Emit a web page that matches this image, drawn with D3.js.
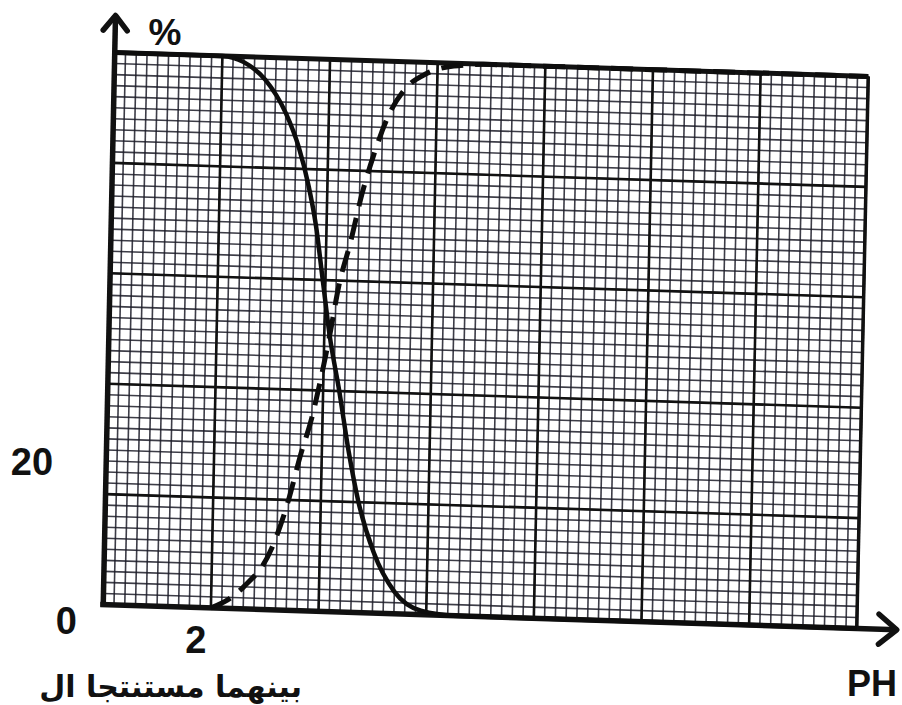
<!DOCTYPE html>
<meta charset="utf-8">
<title>% vs PH</title>
<script src="https://d3js.org/d3.v7.min.js"></script>
<style>
  body { margin: 0; background: #fff; }
  svg text { font-family: "Liberation Sans", Arial, sans-serif; font-weight: bold; fill: #111; }
</style>
<body>
<script>

// solid curve (falls from 100% to 0%)
const solidPH  = [0, 2, 2.4, 2.8, 3.2, 3.45, 3.65, 3.8, 3.95, 4.1, 4.3, 4.5, 4.7, 5.0, 5.4, 5.9, 6.5, 14];
const solidPct = [100, 100, 99, 96, 90, 84, 77, 70, 60, 50, 40, 29, 20, 11, 4, 0.7, 0, 0];

// dashed curve (rises from 0% to 100%)
const dashPH  = [2, 2.3, 2.6, 3.1, 3.4, 3.6, 3.8, 3.95, 4.1, 4.25, 4.45, 4.65, 4.85, 5.1, 5.4, 5.8, 6.3, 7, 14];
const dashPct = [0, 1.5, 4, 11, 20, 28, 35, 42, 50, 59, 67, 76, 83, 90, 95, 98, 99.5, 100, 100];

// axis labels
const xTickValues = [0, 2];
const xTickLabels = ["0", "2"];
const yTickValues = [20];
const yTickLabels = ["20"];

const width = 902, height = 705;
const W = 753.5, H = 552;          // inner plot size
// slight skew, the page in the photo is not flat
const skew = { b: 24 / W, c: -11.5 / H, e: 114.75, f: 52.5 };

const x = d3.scaleLinear().domain([0, 14]).range([0, W]);
const y = d3.scaleLinear().domain([0, 100]).range([H, 0]);

const svg = d3.select("body").append("svg")
  .attr("width", width)
  .attr("height", height);

const g = svg.append("g")
  .attr("transform", `matrix(1 ${skew.b} ${skew.c} 1 ${skew.e} ${skew.f})`);

// minor grid
const minorX = d3.range(0, 14.001, 0.2);
const minorY = d3.range(0, 100.001, 2);
g.append("g").selectAll("line").data(minorX).join("line")
  .attr("x1", d => x(d)).attr("x2", d => x(d))
  .attr("y1", y(0)).attr("y2", y(100))
  .attr("stroke", "#1c1c28").attr("stroke-width", 1.6).attr("opacity", 0.85);
g.append("g").selectAll("line").data(minorY).join("line")
  .attr("x1", x(0)).attr("x2", x(14))
  .attr("y1", d => y(d)).attr("y2", d => y(d))
  .attr("stroke", "#1c1c28").attr("stroke-width", 1.6).attr("opacity", 0.85);

// major grid
g.append("g").selectAll("line").data(d3.range(0, 14.001, 2)).join("line")
  .attr("x1", d => x(d)).attr("x2", d => x(d))
  .attr("y1", y(0)).attr("y2", y(100))
  .attr("stroke", "#111").attr("stroke-width", 2.6);
g.append("g").selectAll("line").data(d3.range(0, 100.001, 20)).join("line")
  .attr("x1", x(0)).attr("x2", x(14))
  .attr("y1", d => y(d)).attr("y2", d => y(d))
  .attr("stroke", "#111").attr("stroke-width", 2.6);

// frame: thick top, thinner right
g.append("line").attr("x1", x(0)).attr("x2", x(14)).attr("y1", y(100)).attr("y2", y(100))
  .attr("stroke", "#111").attr("stroke-width", 5);
g.append("line").attr("x1", x(14)).attr("x2", x(14)).attr("y1", y(100)).attr("y2", y(0))
  .attr("stroke", "#111").attr("stroke-width", 3.5);

// axes with arrows
g.append("line").attr("x1", x(0)).attr("x2", x(0)).attr("y1", y(0) + 2).attr("y2", y(100) - 36)
  .attr("stroke", "#111").attr("stroke-width", 5.5);
g.append("path")
  .attr("d", `M${x(0) - 12},${y(100) - 22} L${x(0)},${y(100) - 37} L${x(0) + 12},${y(100) - 22}`)
  .attr("fill", "none").attr("stroke", "#111").attr("stroke-width", 5.5)
  .attr("stroke-linecap", "round").attr("stroke-linejoin", "round");

g.append("line").attr("x1", x(0) - 3).attr("x2", x(14) + 40).attr("y1", y(0)).attr("y2", y(0))
  .attr("stroke", "#111").attr("stroke-width", 5.5);
g.append("path")
  .attr("d", `M${x(14) + 22},${y(0) - 15} L${x(14) + 40},${y(0)} L${x(14) + 22},${y(0) + 15}`)
  .attr("fill", "none").attr("stroke", "#111").attr("stroke-width", 5.5)
  .attr("stroke-linecap", "round").attr("stroke-linejoin", "round");

// curves
const line = d3.line()
  .x(d => x(d[0]))
  .y(d => y(d[1]))
  .curve(d3.curveMonotoneX);

g.append("path")
  .datum(d3.zip(solidPH, solidPct))
  .attr("d", line)
  .attr("fill", "none")
  .attr("stroke", "#0d0d0d")
  .attr("stroke-width", 4.5);

g.append("path")
  .datum(d3.zip(dashPH, dashPct))
  .attr("d", line)
  .attr("fill", "none")
  .attr("stroke", "#0d0d0d")
  .attr("stroke-width", 5)
  .attr("stroke-dasharray", "22,12");

// labels (page coordinates, placed from the scales)
const px = v => skew.e + x(v) + skew.c * H;

svg.selectAll("text.xt").data(xTickValues).join("text")
  .attr("class", "xt")
  .attr("x", (d, i) => px(d) - (i === 0 ? 37 : 15))
  .attr("y", (d, i) => (i === 0 ? 634 : 653))
  .attr("text-anchor", "middle")
  .attr("font-size", 38)
  .text((d, i) => xTickLabels[i]);

svg.selectAll("text.yt").data(yTickValues).join("text")
  .attr("class", "yt")
  .attr("x", 32)
  .attr("y", d => skew.f + y(d) - 19)
  .attr("text-anchor", "middle")
  .attr("font-size", 38)
  .text((d, i) => yTickLabels[i]);

svg.append("text").attr("x", 165).attr("y", 45).attr("text-anchor", "middle")
  .attr("font-size", 37).text("%");

svg.append("text").attr("x", 872).attr("y", 696).attr("text-anchor", "middle")
  .attr("font-size", 36).text("PH");

// caption under the chart
svg.append("text")
  .attr("x", 302).attr("y", 697)
  .attr("text-anchor", "end")
  .attr("font-size", 30)
  .style("font-family", "'DejaVu Sans', sans-serif")
  .text("بينهما مستنتجا ال");

</script>
</body>
